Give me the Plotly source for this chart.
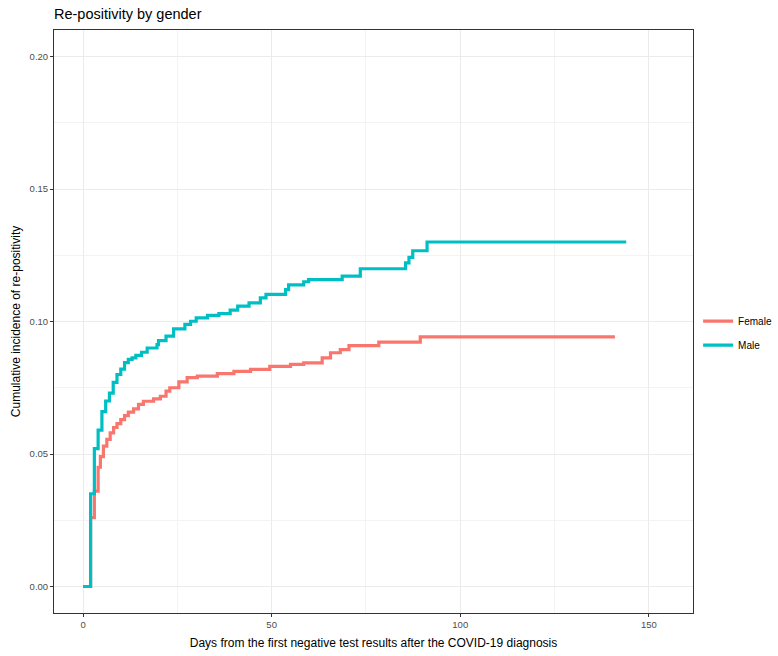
import plotly.graph_objects as go

# Kaplan-Meier style cumulative incidence (step functions)
male_days = [0, 2, 3, 4, 5, 6, 7, 8, 9, 10, 11, 12, 13, 14, 15.5, 17, 19.6, 20, 22, 24,
             27, 28.5, 30, 33, 36, 39, 41, 44, 47, 48.5, 53.7, 54.5, 58.5, 59.8, 68.7,
             73.5, 85.5, 86.4, 87.4, 91.2, 144]
male_cum = [0, 0.035, 0.052, 0.059, 0.066, 0.070, 0.073, 0.077, 0.080, 0.082, 0.0845,
            0.0857, 0.0863, 0.0872, 0.0884, 0.0900, 0.0913, 0.0928, 0.0945, 0.0972,
            0.0989, 0.1001, 0.1014, 0.1023, 0.1030, 0.1043, 0.1058, 0.1070, 0.1089,
            0.1102, 0.1120, 0.1138, 0.1150, 0.1158, 0.1171, 0.1199, 0.1221, 0.1242,
            0.1267, 0.1300, 0.1300]

female_days = [0, 2, 3, 4, 4.6, 5.4, 6.3, 7.2, 8.1, 9, 10, 11, 12, 13.4, 14.7, 16, 18.7,
               20.5, 22, 23, 25.4, 27.6, 30.3, 35.6, 40, 44.4, 49.5, 55, 58.5, 63.4,
               65.6, 68.2, 70.5, 78.4, 89.4, 141]
female_cum = [0, 0.026, 0.036, 0.045, 0.049, 0.053, 0.0555, 0.058, 0.060, 0.0615, 0.063,
              0.0645, 0.0658, 0.067, 0.0687, 0.0699, 0.0708, 0.0718, 0.0737, 0.0750,
              0.0772, 0.0788, 0.0794, 0.0803, 0.0812, 0.0819, 0.0831, 0.0838, 0.0844,
              0.0863, 0.0882, 0.0894, 0.0909, 0.0922, 0.0942, 0.0942]

x_ticks = [0, 50, 100, 150]
y_ticks = [0, 0.05, 0.10, 0.15, 0.20]
y_tick_labels = ["0.00", "0.05", "0.10", "0.15", "0.20"]

FONT = "Liberation Sans, Arial, Helvetica, sans-serif"

fig = go.Figure()
fig.add_trace(go.Scatter(x=female_days, y=female_cum, mode="lines", name="Female",
                         legendgroup="f",
                         line=dict(color="#F8766D", width=3.2, shape="hv")))
fig.add_trace(go.Scatter(x=male_days, y=male_cum, mode="lines", name="Male",
                         legendgroup="m",
                         line=dict(color="#00BFC4", width=3.2, shape="hv")))

axis_common = dict(
    showline=True, linecolor="#333333", linewidth=1, mirror=True,
    gridcolor="#EBEBEB", gridwidth=1.1, zeroline=False,
    ticks="outside", ticklen=3, tickcolor="#333333", tickwidth=1,
    tickfont=dict(family=FONT, size=9.5, color="#4D4D4D"),
)

fig.update_layout(
    width=778, height=656,
    margin=dict(l=54, r=85, t=30, b=43, autoexpand=False),
    paper_bgcolor="white", plot_bgcolor="white",
    title=dict(text="Re-positivity by gender", x=0, xref="paper", xanchor="left",
               y=1 - 14 / 656, yanchor="middle",
               font=dict(family=FONT, size=14.5, color="black")),
    xaxis=dict(range=[-7.7, 161.7], tickvals=x_ticks,
               title=dict(text="Days from the first negative test results after the COVID-19 diagnosis",
                          font=dict(family=FONT, size=12, color="black"), standoff=9),
               minor=dict(dtick=25, tick0=25, showgrid=True, gridcolor="#F3F3F3", gridwidth=0.6),
               **axis_common),
    yaxis=dict(range=[-0.01, 0.21], tickvals=y_ticks, ticktext=y_tick_labels,
               title=dict(text="Cumulative incidence of re-positivity",
                          font=dict(family=FONT, size=12, color="black"), standoff=6),
               minor=dict(dtick=0.025, tick0=0.025, showgrid=True, gridcolor="#F3F3F3", gridwidth=0.6),
               **axis_common),
    legend=dict(x=1.008, xanchor="left", y=0.48, yanchor="middle",
                font=dict(family=FONT, size=10, color="black"),
                bgcolor="rgba(0,0,0,0)", itemwidth=30, tracegroupgap=5,
                traceorder="grouped"),
    showlegend=True,
)

fig.write_html("out.html")
